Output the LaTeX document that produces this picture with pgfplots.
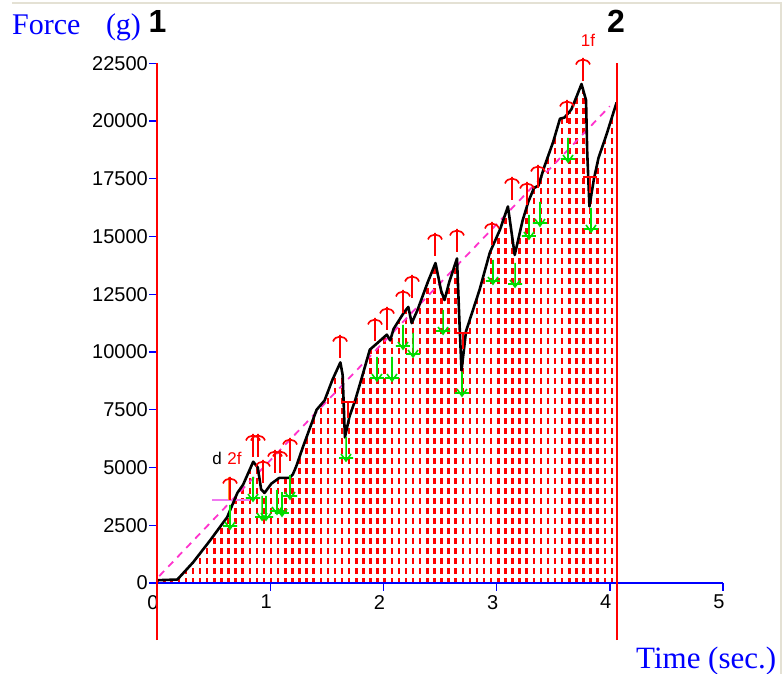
\documentclass[border=0pt]{standalone}
\usepackage{fontspec}
\setmainfont{Liberation Sans}
\newfontfamily\serifb{Liberation Serif}
\usepackage{pgfplots}
\usepackage{pgfplotstable}
\pgfplotsset{compat=1.18}
\usetikzlibrary{patterns}

\definecolor{axblue}{RGB}{0,0,255}
\definecolor{tagpink}{RGB}{255,51,204}
\definecolor{hpink}{RGB}{240,120,240}
\definecolor{orng}{RGB}{255,150,50}
\definecolor{mkgreen}{RGB}{0,220,0}
\definecolor{framegray}{RGB}{228,225,212}

% vertical red dashes under the curve
\pgfdeclarepatternformonly{reddash}{\pgfpoint{-1pt}{-1pt}}{\pgfpoint{8pt}{11pt}}{\pgfpoint{7.1pt}{10pt}}{%
  \pgfpathrectangle{\pgfpointorigin}{\pgfpoint{2.5pt}{5.8pt}}\pgfusepath{fill}}

% peak / trough markers
\pgfdeclareplotmark{uparr}{%
  \pgfpathmoveto{\pgfpoint{0pt}{0pt}}\pgfpathlineto{\pgfpoint{0pt}{-23pt}}%
  \pgfpathmoveto{\pgfpoint{-7pt}{-6.5pt}}%
  \pgfpathcurveto{\pgfpoint{-5pt}{0pt}}{\pgfpoint{5pt}{0pt}}{\pgfpoint{7pt}{-6.5pt}}%
  \pgfusepathqstroke}
\pgfdeclareplotmark{dnarr}{%
  \pgfpathmoveto{\pgfpoint{0pt}{0pt}}\pgfpathlineto{\pgfpoint{0pt}{-24pt}}%
  \pgfpathmoveto{\pgfpoint{-5pt}{-17pt}}\pgfpathlineto{\pgfpoint{0pt}{-24pt}}\pgfpathlineto{\pgfpoint{5pt}{-17pt}}%
  \pgfpathmoveto{\pgfpoint{-7pt}{-21pt}}\pgfpathlineto{\pgfpoint{7pt}{-21pt}}%
  \pgfusepathqstroke}
\pgfdeclareplotmark{tbar}{%
  \pgfpathmoveto{\pgfpoint{-7pt}{0pt}}\pgfpathlineto{\pgfpoint{7pt}{0pt}}%
  \pgfpathmoveto{\pgfpoint{0pt}{0pt}}\pgfpathlineto{\pgfpoint{0pt}{-16pt}}%
  \pgfusepathqstroke}

\pgfplotstableread{
t f
0.00 120
0.18 150
0.32 900
0.47 1850
0.62 2850
0.71 3900
0.76 4250
0.85 5250
0.89 5000
0.92 4050
0.95 3900
1.01 4300
1.08 4550
1.17 4550
1.20 4700
1.23 5050
1.29 5900
1.41 7500
1.48 7900
1.55 8800
1.62 9550
1.64 9000
1.66 6300
1.70 7200
1.75 7900
1.81 8900
1.88 10100
1.95 10400
2.03 10750
2.06 10500
2.09 11000
2.18 11700
2.22 11950
2.25 11250
2.30 11800
2.39 13000
2.46 13850
2.51 12650
2.54 12250
2.58 13000
2.65 14050
2.67 11500
2.69 9200
2.73 10900
2.85 12700
2.94 14300
3.03 15300
3.10 16300
3.16 14200
3.23 15700
3.28 16500
3.33 17100
3.37 17200
3.42 18000
3.50 19100
3.56 20100
3.60 20150
3.66 20500
3.71 21100
3.75 21600
3.79 20900
3.80 18700
3.82 16300
3.86 17500
3.90 18400
3.97 19400
4.06 20800
}\curve

\pgfplotstableread{
t f
0.645 4589
0.848 6450
0.892 6450
0.936 5325
1.042 5758
1.087 5758
1.175 6277
1.617 10736
1.926 11472
2.032 11948
2.173 12684
2.253 13333
2.456 15152
2.650 15325
2.959 15628
3.136 17576
3.269 17359
3.366 18095
3.622 20909
3.763 22727
}\peaks

\pgfplotstableread{
t f
0.645 3377
0.848 4589
0.928 3766
0.963 3766
1.060 4026
1.104 3939
1.175 4675
1.670 6320
1.943 9784
2.076 9784
2.173 11169
2.262 10823
2.527 11818
2.694 9134
2.968 13983
3.163 13853
3.286 15931
3.383 16494
3.631 19264
3.834 16234
}\troughs

\pgfplotstableread{
t f
1.687 7835
2.703 10823
3.825 17576
}\dips

\begin{document}
\begin{tikzpicture}
\begin{axis}[
  x=113.2pt, y=0.0231pt,
  xmin=0, xmax=5, ymin=0, ymax=22500,
  axis lines=left,
  axis line style={-},
  x axis line style={axblue, line width=1.6pt},
  y axis line style={draw=none},
  xtick={0,1,2,3,4,5},
  ytick={0,2500,...,22500},
  x tick style={axblue, line width=1.4pt},
  y tick style={axblue, line width=1.4pt},
  tick align=outside,
  major tick length=8pt,
  scaled y ticks=false,
  /pgf/number format/assume math mode=true,
  /pgf/number format/1000 sep={},
  ticklabel style={font=\fontsize{20}{20}\selectfont, inner sep=1pt},
  xticklabel style={yshift=-3pt, xshift=-4pt},
  clip=false,
]
% filled area
\addplot[draw=none, pattern=reddash, pattern color=red] table {\curve} \closedcycle;
% trend line
\addplot[tagpink, line width=1.8pt, dash pattern=on 7pt off 6pt] coordinates {(0.02,300) (4.0,20640)};
% d2f helper lines
\addplot[hpink, line width=1.5pt] coordinates {(0.486,3593) (0.822,3593)};
\addplot[orng, line width=1.5pt] coordinates {(0.636,3593) (0.636,4589)};
% force curve
\addplot[black, line width=2.6pt, line join=round] table {\curve};
% markers
\addplot[only marks, mark=uparr, red, mark options={line width=1.7pt}] table {\peaks};
\addplot[only marks, mark=tbar, red, mark options={line width=1.7pt}] table {\dips};
\addplot[only marks, mark=dnarr, mkgreen, mark options={line width=1.6pt}] table {\troughs};
% x axis line redrawn over the fill
\addplot[axblue, line width=1.6pt] coordinates {(0,0) (5,0)};
% anchor lines 1 and 2
\addplot[red, line width=1.6pt] coordinates {(0,-2468) (0,22500)};
\addplot[red, line width=1.6pt] coordinates {(4.064,-2468) (4.064,22500)};

\node[anchor=base west, text=axblue, font=\serifb\fontsize{30}{30}\selectfont, inner sep=0pt]
  at (axis cs:-1.281,23723) {Force\hspace{0.85em}(g)};
\node[anchor=base west, text=axblue, font=\serifb\fontsize{31}{31}\selectfont, inner sep=0pt]
  at (axis cs:4.231,-3680) {Time (sec.)};
\node[anchor=base, font=\bfseries\fontsize{32}{32}\selectfont, inner sep=0pt] at (axis cs:0.005,23810) {1};
\node[anchor=base, font=\bfseries\fontsize{32}{32}\selectfont, inner sep=0pt] at (axis cs:4.054,23850) {2};
\node[text=red, font=\fontsize{17}{17}\selectfont, inner sep=0pt] at (axis cs:3.807,23506) {1f};
\node[font=\fontsize{17}{17}\selectfont, inner sep=0pt] at (axis cs:0.530,5411) {d};
\node[text=red, font=\fontsize{17}{17}\selectfont, inner sep=0pt] at (axis cs:0.684,5411) {2f};

\coordinate (bl) at (axis cs:-1.387,-3939);
\coordinate (tr) at (axis cs:5.530,25238);
\end{axis}
\pgfresetboundingbox
\useasboundingbox (bl) rectangle (tr);
\draw[framegray, line width=2pt] ([xshift=12pt,yshift=-3pt]bl|-tr) -- ([xshift=-2pt,yshift=-3pt]tr) -- ([xshift=-2pt]tr|-bl);
\end{tikzpicture}
\end{document}
